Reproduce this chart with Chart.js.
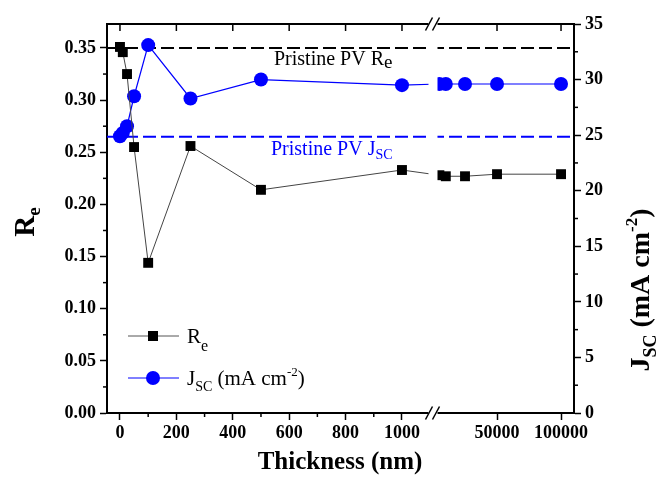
<!DOCTYPE html>
<html>
<head>
<meta charset="utf-8">
<script src="https://cdn.jsdelivr.net/npm/chart.js@4.4.1/dist/chart.umd.min.js"></script>
<style>
  html, body { margin: 0; padding: 0; background: #fff; }
  #chart { display: block; }
</style>
</head>
<body>
<canvas id="chart" width="659" height="477"></canvas>
<script>
// values
var thickness = [0, 10, 25, 50, 100, 250, 500, 1000, 5000, 10000, 25000, 50000, 100000];
var reValues = [0.351, 0.346, 0.325, 0.255, 0.144, 0.256, 0.214, 0.233, 0.228, 0.227, 0.227, 0.229, 0.229];
var jscValues = [24.9, 25.2, 25.8, 28.5, 33.1, 28.3, 30.0, 29.5, 29.6, 29.6, 29.6, 29.6, 29.6];
var pristineRe = 0.35;
var pristineJsc = 24.85;
var xTickValues = [0, 200, 400, 600, 800, 1000, 50000, 100000];
var xMinorValues = [100, 300, 500, 700, 900];
var reTicks = [0, 0.05, 0.10, 0.15, 0.20, 0.25, 0.30, 0.35];
var jscTicks = [0, 5, 10, 15, 20, 25, 30, 35];

// broken x axis: 0..1000 nm linear, then a compressed linear part after the break
var BREAK_AT = 1110;
var RIGHT_PER_NM = 0.00454;
var X_MIN = -46, X_MAX = 1610;
function axisPos(t) {
    return t <= 1000 ? t : BREAK_AT + t * RIGHT_PER_NM;
}

var SERIF = '"Liberation Serif", "Times New Roman", serif';
var BLUE = '#0000ff';

function pts(ys) {
    return thickness.map(function (t, i) { return {x: axisPos(t), y: ys[i]}; });
}

// draws text pieces one after another: [text, size, dy, weight]
function rich(ctx, x, y, parts, color, align) {
    var w = 0;
    parts.forEach(function (p) {
        ctx.font = (p[3] || 'normal') + ' ' + p[1] + 'px ' + SERIF;
        w += ctx.measureText(p[0]).width;
    });
    var cx = align === 'center' ? x - w / 2 : x;
    ctx.fillStyle = color;
    ctx.textBaseline = 'alphabetic';
    ctx.textAlign = 'left';
    parts.forEach(function (p) {
        ctx.font = (p[3] || 'normal') + ' ' + p[1] + 'px ' + SERIF;
        ctx.fillText(p[0], cx, y + p[2]);
        cx += ctx.measureText(p[0]).width;
    });
}

function line(ctx, x1, y1, x2, y2) {
    ctx.beginPath();
    ctx.moveTo(x1, y1);
    ctx.lineTo(x2, y2);
    ctx.stroke();
}

var decor = {
    id: 'decor',
    afterDatasetsDraw: function (chart) {
        var ctx = chart.ctx, a = chart.chartArea;
        var x = chart.scales.x, y = chart.scales.y, y2 = chart.scales.y2;
        ctx.save();
        ctx.strokeStyle = '#000';

        // top frame with inward ticks
        ctx.lineWidth = 2;
        line(ctx, a.left - 1, a.top, a.right + 1, a.top);
        ctx.lineWidth = 1.5;
        xTickValues.forEach(function (v) {
            var px = x.getPixelForValue(axisPos(v));
            line(ctx, px, a.top, px, a.top + 7);
        });

        // minor ticks
        xMinorValues.forEach(function (v) {
            var px = x.getPixelForValue(v);
            line(ctx, px, a.bottom, px, a.bottom + 4);
        });
        for (var r = 0.025; r < 0.37; r += 0.05) {
            var py = y.getPixelForValue(r);
            line(ctx, a.left - 4, py, a.left, py);
        }
        for (var j = 2.5; j < 35; j += 5) {
            var py2 = y2.getPixelForValue(j);
            line(ctx, a.right, py2, a.right + 4, py2);
        }

        // axis break
        var bx = x.getPixelForValue(BREAK_AT);
        ctx.fillStyle = '#fff';
        ctx.fillRect(bx - 4.5, a.top - 3, 9, a.bottom - a.top + 6);
        ctx.lineWidth = 1.5;
        [a.top, a.bottom].forEach(function (yy) {
            [bx - 4, bx + 3].forEach(function (sx) {
                line(ctx, sx - 3.5, yy + 6.5, sx + 3.5, yy - 6.5);
            });
        });

        // pristine labels
        rich(ctx, 274, 65, [['Pristine PV R', 20, 0], ['e', 19, 3]], '#000');
        rich(ctx, 271, 155, [['Pristine PV J', 20, 0], ['SC', 14, 4]], BLUE);

        // legend
        ctx.lineWidth = 1;
        ctx.strokeStyle = '#555';
        line(ctx, 128, 336, 179, 336);
        ctx.fillStyle = '#000';
        ctx.fillRect(148, 331, 10, 10);
        rich(ctx, 187, 343, [['R', 21, 0], ['e', 16, 8]], '#000');
        ctx.strokeStyle = BLUE;
        line(ctx, 128, 378, 179, 378);
        ctx.fillStyle = BLUE;
        ctx.beginPath();
        ctx.arc(153, 378, 7, 0, Math.PI * 2);
        ctx.fill();
        rich(ctx, 187, 385, [['J', 21, 0], ['SC', 14, 6], [' (mA cm', 21, 0], ['-2', 13, -9], [')', 21, 0]], '#000');

        // axis titles
        rich(ctx, 340, 469, [['Thickness (nm)', 25, 0, 'bold']], '#000', 'center');
        ctx.save();
        ctx.translate(34, 222);
        ctx.rotate(-Math.PI / 2);
        rich(ctx, 0, 0, [['R', 29, 0, 'bold'], ['e', 19, 6, 'bold']], '#000', 'center');
        ctx.restore();
        ctx.save();
        ctx.translate(649, 290);
        ctx.rotate(-Math.PI / 2);
        rich(ctx, 0, 0, [['J', 28, 0, 'bold'], ['SC', 18, 7, 'bold'], [' (mA cm', 28, 0, 'bold'],
            ['-2', 17, -12, 'bold'], [')', 28, 0, 'bold']], '#000', 'center');
        ctx.restore();

        ctx.restore();
    }
};

var tickFont = {family: SERIF, size: 18, weight: 'bold'};
var axisGrid = {drawOnChartArea: false, tickLength: 7, tickColor: '#000', tickWidth: 1.5};
var axisBorder = {color: '#000', width: 2};

new Chart(document.getElementById('chart').getContext('2d'), {
    type: 'line',
    data: {
        datasets: [{
            label: 'Re',
            data: pts(reValues),
            yAxisID: 'y',
            borderColor: '#444',
            borderWidth: 1,
            pointStyle: 'rect',
            pointRadius: 7,
            pointBackgroundColor: '#000',
            pointBorderWidth: 0
        }, {
            label: 'Jsc',
            data: pts(jscValues),
            yAxisID: 'y2',
            borderColor: BLUE,
            borderWidth: 1.2,
            pointStyle: 'circle',
            pointRadius: 7,
            pointBackgroundColor: BLUE,
            pointBorderWidth: 0
        }, {
            label: 'Pristine PV Re',
            data: [{x: X_MIN, y: pristineRe}, {x: X_MAX, y: pristineRe}],
            yAxisID: 'y',
            borderColor: '#000',
            borderWidth: 2,
            borderDash: [13, 5],
            pointRadius: 0
        }, {
            label: 'Pristine PV Jsc',
            data: [{x: X_MIN, y: pristineJsc}, {x: X_MAX, y: pristineJsc}],
            yAxisID: 'y2',
            borderColor: BLUE,
            borderWidth: 2,
            borderDash: [13, 5],
            pointRadius: 0
        }]
    },
    options: {
        responsive: false,
        animation: false,
        devicePixelRatio: 1,
        layout: {padding: {top: 24, left: 0, right: 0, bottom: 0}},
        plugins: {legend: {display: false}, tooltip: {enabled: false}},
        scales: {
            x: {
                type: 'linear',
                position: 'bottom',
                min: X_MIN,
                max: X_MAX,
                grid: axisGrid,
                border: axisBorder,
                afterBuildTicks: function (scale) {
                    scale.ticks = xTickValues.map(function (v) { return {value: axisPos(v)}; });
                },
                afterFit: function (scale) { scale.height = 64; },
                ticks: {
                    autoSkip: false,
                    maxRotation: 0,
                    padding: 3,
                    color: '#000',
                    font: tickFont,
                    callback: function (value, index) { return String(xTickValues[index]); }
                }
            },
            y: {
                position: 'left',
                min: 0,
                max: 0.373,
                grid: axisGrid,
                border: axisBorder,
                afterBuildTicks: function (scale) {
                    scale.ticks = reTicks.map(function (v) { return {value: v}; });
                },
                afterFit: function (scale) { scale.width = 107; },
                ticks: {
                    padding: 4,
                    color: '#000',
                    font: tickFont,
                    callback: function (value) { return value.toFixed(2); }
                }
            },
            y2: {
                position: 'right',
                min: 0,
                max: 35,
                grid: axisGrid,
                border: axisBorder,
                afterBuildTicks: function (scale) {
                    scale.ticks = jscTicks.map(function (v) { return {value: v}; });
                },
                afterFit: function (scale) { scale.width = 85; },
                ticks: {
                    padding: 4,
                    color: '#000',
                    font: tickFont,
                    callback: function (value) { return String(value); }
                }
            }
        }
    },
    plugins: [decor]
});
</script>
</body>
</html>
